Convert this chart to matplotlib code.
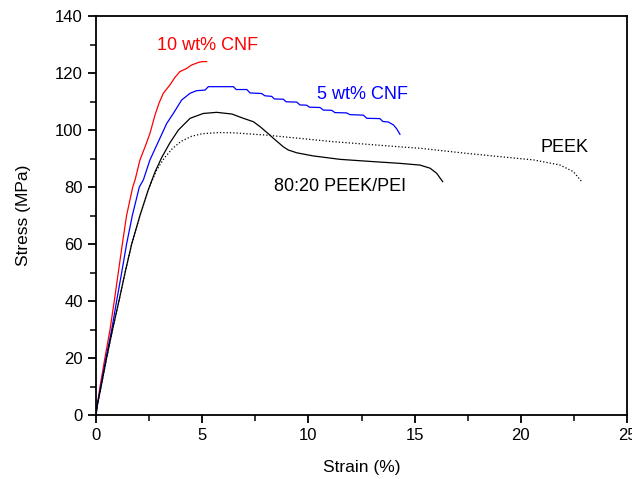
"""
Stress-strain curves for PEEK, PEEK/PEI blend and CNF composites.
"""

import numpy as np
import matplotlib.pyplot as plt
from matplotlib.ticker import MultipleLocator

plt.rcParams['font.family'] = ['Liberation Sans', 'DejaVu Sans']

# Curves (strain %, stress MPa)
cnf10_strain = [0, 0.05, 0.19, 0.42, 0.66, 0.86, 1.05, 1.24, 1.44, 1.73, 1.84, 2.07,
                2.31, 2.54, 2.78, 2.97, 3.17, 3.48, 3.7, 3.95, 4.27, 4.5, 4.82, 5.0, 5.21]
cnf10_stress = [0, 3, 10, 20, 30, 40, 50, 60, 70, 80, 82.5, 89.5,
                94.1, 98.8, 105.3, 109.5, 112.9, 115.8, 118.3, 120.5, 121.6, 122.8, 123.7,
                124.0, 124.0]

cnf5_strain = [0, 0.05, 0.22, 0.47, 0.74, 0.97, 1.21, 1.44, 1.71, 2.04, 2.23, 2.54,
               2.86, 3.33, 3.64, 4.03, 4.43, 4.74, 5.13, 5.29, 6.47, 6.6, 7.1, 7.25,
               7.8, 7.95, 8.27, 8.4, 8.82, 8.95, 9.45, 9.6, 9.92, 10.05, 10.55, 10.7,
               11.1, 11.25, 11.8, 11.95, 12.59, 12.75, 13.37, 13.5, 13.76, 14.0, 14.15,
               14.31]
cnf5_stress = [0, 3, 10, 20, 30, 40, 50, 60, 70, 80, 82.5, 89.5,
               94.7, 102.3, 105.8, 110.5, 112.9, 113.8, 114.0, 115.2, 115.2, 114.2, 114.2,
               113.0, 112.8, 112.0, 111.8, 110.9, 110.8, 109.9, 109.8, 108.8, 108.7,
               108.0, 107.9, 107.0, 106.9, 106.1, 106.0, 105.4, 105.2, 104.1, 104.0,
               103.0, 102.8, 101.8, 100.5, 98.5]

blend_strain = [0, 0.05, 0.24, 0.5, 0.78, 1.08, 1.37, 1.68, 2.07, 2.46, 2.78, 3.09,
                3.48, 3.88, 4.43, 5.05, 5.68, 6.4, 6.94, 7.41, 7.72, 8.19, 8.35, 8.82,
                9.05, 9.45, 10.23, 11.49, 13.06, 14.3, 15.25, 15.73, 16.04, 16.32]
blend_stress = [0, 3, 10, 20, 30, 40, 50, 60, 70, 79, 85.3, 90.3,
                95.5, 100, 104.1, 105.8, 106.2, 105.6, 104.1, 102.9, 101.2, 98.2, 97.1,
                94.1, 93.0, 92.0, 90.9, 89.7, 88.9, 88.3, 87.7, 86.6, 84.8, 81.9]

peek_strain = [0, 0.05, 0.24, 0.5, 0.78, 1.08, 1.37, 1.68, 2.07, 2.46, 2.86, 3.2,
               3.6, 4.0, 4.5, 5.0, 5.8, 6.5, 8.03, 11.17, 14.3, 15.25, 17.45, 20.6,
               21.85, 22.47, 22.87]
peek_stress = [0, 3, 10, 20, 30, 40, 50, 60, 70, 79, 86, 90,
               93.5, 96.0, 97.8, 98.7, 99.1, 99.0, 98.2, 95.9, 94.1, 93.6, 91.8, 89.5,
               87.7, 85.4, 81.9]

# label text, position (strain, stress), colour
labels = [
    ('10 wt% CNF', 2.87, 129.8, 'red'),
    ('5 wt% CNF', 10.4, 112.3, 'blue'),
    ('PEEK', 20.95, 94.0, 'black'),
    ('80:20 PEEK/PEI', 8.38, 80.3, 'black'),
]


def main():
    fig = plt.figure(figsize=(6.32, 4.79), dpi=100)
    ax = fig.add_axes([96 / 632, 1 - 415 / 479, 531 / 632, 399 / 479])

    ax.plot(cnf10_strain, cnf10_stress, color='red', linewidth=0.9)
    ax.plot(cnf5_strain, cnf5_stress, color='blue', linewidth=0.9)
    ax.plot(blend_strain, blend_stress, color='black', linewidth=0.9)
    ax.plot(peek_strain, peek_stress, color='black', linewidth=0.9, linestyle=':')

    for text, x, y, color in labels:
        ax.text(x, y, text, color=color, fontsize=13, va='center', ha='left')

    ax.set_xlim(0, 25)
    ax.set_ylim(0, 140)
    ax.xaxis.set_major_locator(MultipleLocator(5))
    ax.xaxis.set_minor_locator(MultipleLocator(2.5))
    ax.yaxis.set_major_locator(MultipleLocator(20))
    ax.yaxis.set_minor_locator(MultipleLocator(10))
    ax.tick_params(which='major', direction='out', length=6, width=1.3, labelsize=12)
    ax.tick_params(which='minor', direction='out', length=4, width=1.1)

    for spine in ax.spines.values():
        spine.set_linewidth(1.3)

    ax.set_xlabel('Strain (%)', fontsize=12.5, labelpad=12)
    ax.set_ylabel('Stress (MPa)', fontsize=12.5, labelpad=17)

    plt.savefig('out.png', dpi=100)
    plt.close()


if __name__ == "__main__":
    main()
